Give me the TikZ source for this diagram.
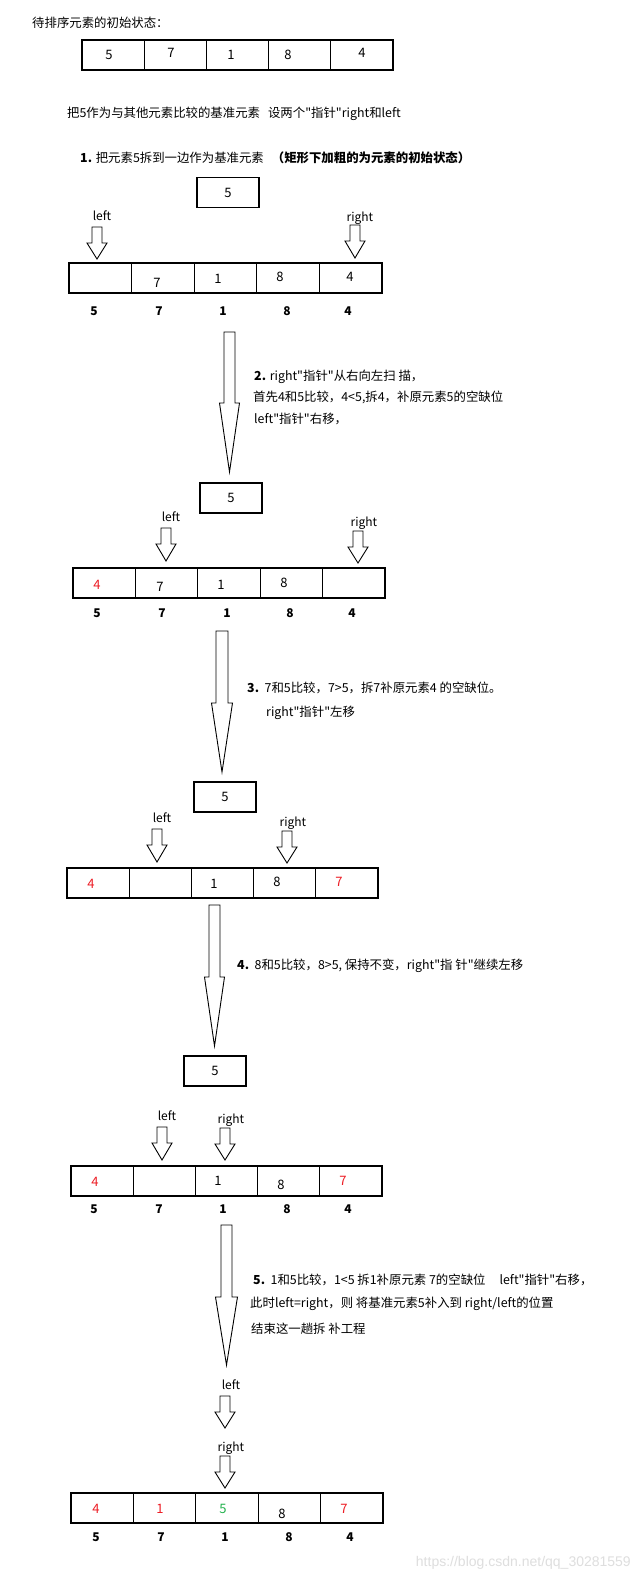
\documentclass[tikz,border=0pt]{standalone}
\usepackage{fontspec}
\setmainfont{Noto Sans CJK SC}[Ligatures=TeXOff]
\newfontfamily\wmfont{Liberation Sans}
\definecolor{pred}{RGB}{237,28,36}
\definecolor{pgreen}{RGB}{34,177,76}
\newcommand\fsz[1]{\fontsize{#1}{#1}\selectfont}
\newcommand\trow[4]{% prefix, x0, x1, ytop
  \pgfmathsetmacro\cw{(#3-#2)/5}
  \foreach \i in {1,...,5}{
    \node[cell, minimum width=\cw pt, anchor=north west] (#1\i) at ({#2+(\i-1)*\cw},#4) {};
  }}
\newcommand\ptr[3]{% x, ytop, ytip
  \draw[arr] ({#1-5},#2) -- ({#1+5},#2) -- ({#1+5},{#2+16}) -- ({#1+10},{#2+16}) -- (#1,#3) -- ({#1-10},{#2+16}) -- ({#1-5},{#2+16}) -- cycle;}
\newcommand\bigarr[6]{% x, shaft hw, ytop, yhead, head hw, ytip
  \draw[arr] ({#1-#2},#3) -- ({#1+#2},#3) -- ({#1+#2},#4) -- ({#1+#5},#4) -- (#1,#6) -- ({#1-#5},#4) -- ({#1-#2},#4) -- cycle;}
\begin{document}
\begin{tikzpicture}[x=1pt,y=-1pt,
  cell/.style={draw, line width=1.2pt, minimum height=30pt, inner sep=0pt, outer sep=0pt},
  box/.style={draw, line width=1.1pt, minimum width=62pt, minimum height=30pt, inner sep=0pt, font=\fsz{13}},
  num/.style={inner sep=0pt, font=\fsz{13}},
  lab/.style={inner sep=0pt, font=\bfseries\fsz{12}},
  plab/.style={inner sep=0pt, font=\fsz{12}},
  txt/.style={anchor=west, inner sep=0pt, font=\fsz{12.4}},
  arr/.style={draw, line width=0.9pt, line join=miter}]
\useasboundingbox[fill=white] (0,0) rectangle (639,1582);

% ---------- header ----------
\node[txt] (title) at (32,23) {待排序元素的初始状态：};
\trow{ta}{82}{393}{40}
\node[num] (na1) at (109,55) {5};
\node[num] (na2) at (171,53) {7};
\node[num] (na3) at (231,55) {1};
\node[num] (na4) at (288,55) {8};
\node[num] (na5) at (362,53) {4};
\node[txt] (intro) at (67,114) {把5作为与其他元素比较的基准元素\hspace{8pt}设两个"指针"right和left};
\node[txt] (s1) at (80,158) {\textbf{1.} 把元素5拆到一边作为基准元素\hspace{8pt}\textbf{（矩形下加粗的为元素的初始状态）}};

% ---------- step 1 ----------
\node[box] (b1) at (228,192.5) {5};
\node[plab] (l1) at (102,216) {left};
\node[plab] (r1) at (360,218) {right};
\ptr{97}{227}{259}
\ptr{355}{225}{258}
\trow{tb}{69}{382}{263}
\node[num] (nb2) at (157,283) {7};
\node[num] (nb3) at (218,279) {1};
\node[num] (nb4) at (280,277) {8};
\node[num] (nb5) at (350,277) {4};
\foreach \xx/\v [count=\k] in {94/5,159/7,223/1,287/8,348/4}
  \node[lab] (lb\k) at (\xx,311) {\v};

% ---------- step 2 ----------
\bigarr{229.5}{5.5}{332}{403}{10}{472}
\node[txt] (s2a) at (254,377) {\textbf{2.} right"指针"从右向左扫 描，};
\node[txt] (s2b) at (253,397) {首先4和5比较，4<5,拆4，补原元素5的空缺位};
\node[txt] (s2c) at (254,419) {left"指针"右移，};
\node[box] (b2) at (231,498) {5};
\node[plab] (l2) at (171,517) {left};
\node[plab] (r2) at (364,523) {right};
\ptr{166}{528}{561}
\ptr{358}{531}{563}
\trow{tc}{73}{385}{568}
\node[num,text=pred] (nc1) at (97,585) {4};
\node[num] (nc2) at (160,587) {7};
\node[num] (nc3) at (221,585) {1};
\node[num] (nc4) at (284,583) {8};
\foreach \xx/\v [count=\k] in {97/5,162/7,227/1,290/8,352/4}
  \node[lab] (lc\k) at (\xx,613) {\v};

% ---------- step 3 ----------
\bigarr{222}{6}{631}{703}{10.5}{772}
\node[txt] (s3a) at (247,688) {\textbf{3.}\ \ 7和5比较，7>5，拆7补原元素4 的空缺位。};
\node[txt] (s3b) at (266,713) {right"指针"左移};
\node[box] (b3) at (225,797) {5};
\node[plab] (l3) at (162,818) {left};
\node[plab] (r3) at (293,823) {right};
\ptr{157}{829}{862}
\ptr{287}{831}{863}
\trow{td}{67}{378}{868}
\node[num,text=pred] (nd1) at (91,884) {4};
\node[num] (nd3) at (214,884) {1};
\node[num] (nd4) at (277,882) {8};
\node[num,text=pred] (nd5) at (339,882) {7};

% ---------- step 4 ----------
\bigarr{214.5}{5.5}{905}{977}{10}{1046}
\node[txt] (s4) at (237,966) {\textbf{4.}\ \ 8和5比较，8>5, 保持不变，right"指 针"继续左移};
\node[box] (b4) at (215,1071) {5};
\node[plab] (l4) at (167,1116) {left};
\node[plab] (r4) at (231,1120) {right};
\ptr{162}{1127}{1160}
\ptr{225}{1128}{1160}
\trow{te}{71}{382}{1166}
\node[num,text=pred] (ne1) at (95,1182) {4};
\node[num] (ne3) at (218,1181) {1};
\node[num] (ne4) at (281,1185) {8};
\node[num,text=pred] (ne5) at (343,1181) {7};
\foreach \xx/\v [count=\k] in {94/5,159/7,223/1,287/8,348/4}
  \node[lab] (le\k) at (\xx,1209) {\v};

% ---------- step 5 ----------
\bigarr{226.5}{5.5}{1225}{1297}{11}{1365}
\node[txt] (s5a) at (253,1280) {\textbf{5.}\ \ 1和5比较，1<5 拆1补原元素 7的空缺位\hspace{14pt}left"指针"右移，};
\node[txt] (s5b) at (250,1304) {此时left=right，则 将基准元素5补入到 right/left的位置};
\node[txt] (s5c) at (251,1329) {结束这一趟拆 补工程};
\node[plab] (l5) at (231,1385) {left};
\ptr{225}{1396}{1428}
\node[plab] (r5) at (231,1448) {right};
\ptr{225}{1456}{1488}
\trow{tf}{71}{383}{1493}
\node[num,text=pred] (nf1) at (96,1509) {4};
\node[num,text=pred] (nf2) at (160,1509) {1};
\node[num,text=pgreen] (nf3) at (223,1509) {5};
\node[num] (nf4) at (282,1514) {8};
\node[num,text=pred] (nf5) at (344,1509) {7};
\foreach \xx/\v [count=\k] in {96/5,161/7,225/1,289/8,350/4}
  \node[lab] (lf\k) at (\xx,1537) {\v};

\node[anchor=east, inner sep=0pt, text=black!13, font=\wmfont\fsz{14}] (wm) at (631,1563) {https://blog.csdn.net/qq\_30281559};
\end{tikzpicture}
\end{document}
